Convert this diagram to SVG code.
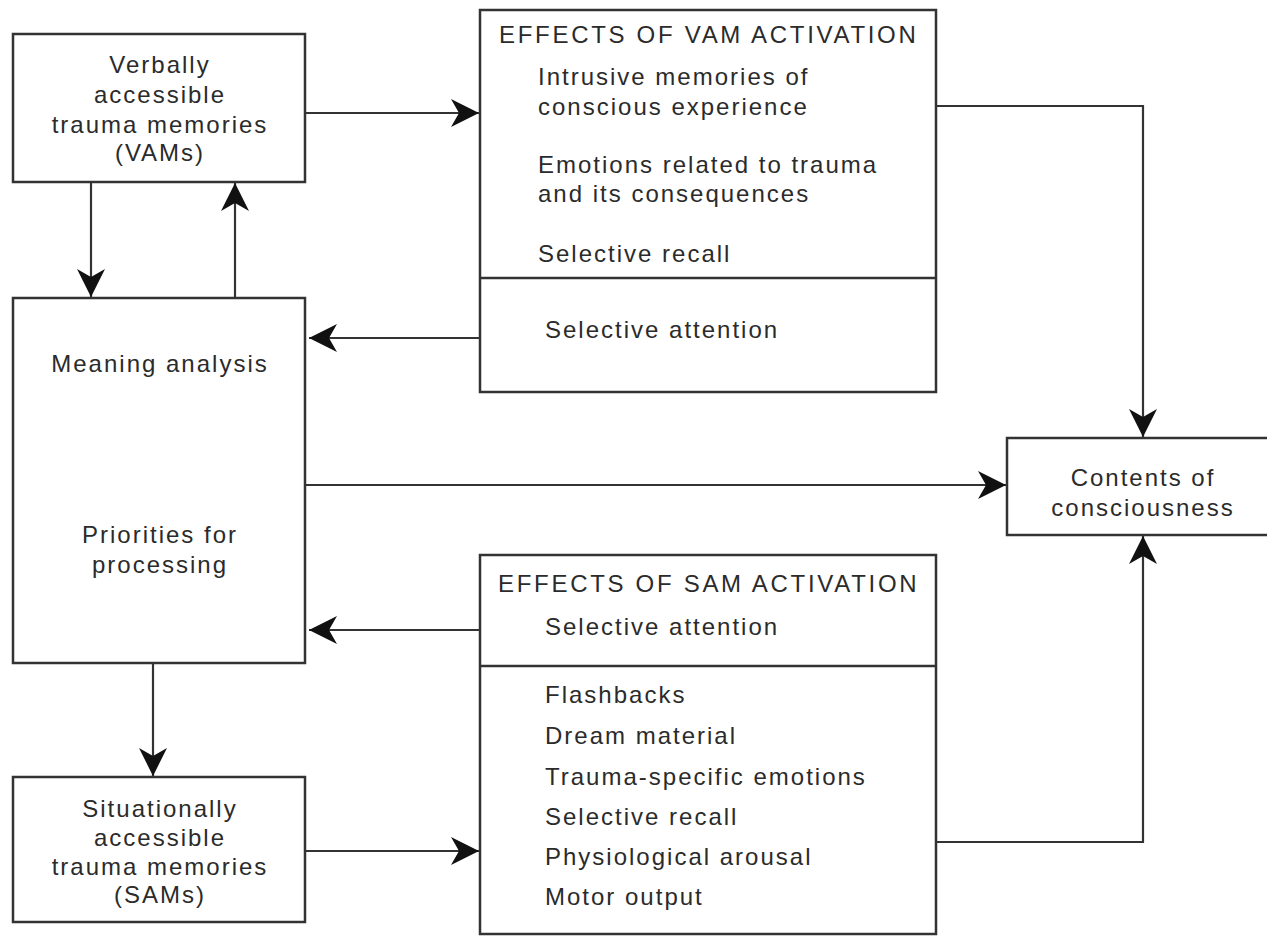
<svg xmlns="http://www.w3.org/2000/svg" width="1267" height="937" viewBox="0 0 1267 937">
  <style>
    .box { fill: #fff; stroke: #333; stroke-width: 2.5; }
    .rule { stroke: #333; stroke-width: 2.5; }
    .link { fill: none; stroke: #333; stroke-width: 2.2; marker-end: url(#arrow); }
    text { font-family: "Liberation Sans", Arial, Helvetica, sans-serif; font-size: 24px; fill: #2b2b2b; letter-spacing: 2px; }
    .mid { text-anchor: middle; }
    .title { letter-spacing: 2.7px; }
  </style>
  <defs>
    <marker id="arrow" markerUnits="userSpaceOnUse" markerWidth="32" markerHeight="32" viewBox="-30 -16 32 32" refX="0" refY="0" orient="auto">
      <path d="M0,0 L-28,-14 L-20,0 L-28,14 Z" fill="#111"/>
    </marker>
  </defs>

  <rect width="1267" height="937" fill="#fff"/>

  <!-- connectors -->
  <g id="connectors">
    <path class="link" d="M305,113 H479"/>
    <path class="link" d="M936,106 H1143 V437"/>
    <path class="link" d="M91,182 V297"/>
    <path class="link" d="M235,298 V183"/>
    <path class="link" d="M480,338 H309"/>
    <path class="link" d="M305,485 H1006"/>
    <path class="link" d="M480,630 H309"/>
    <path class="link" d="M153,663 V776"/>
    <path class="link" d="M305,851 H479"/>
    <path class="link" d="M936,842 H1143 V536"/>
  </g>

  <!-- verbally accessible memories -->
  <g id="vams">
    <rect class="box" x="13" y="34" width="292" height="148"/>
    <text class="mid" x="160" y="73">Verbally</text>
    <text class="mid" x="160" y="103">accessible</text>
    <text class="mid" x="160" y="133">trauma memories</text>
    <text class="mid" x="160" y="161">(VAMs)</text>
  </g>

  <!-- central processing -->
  <g id="meaning">
    <rect class="box" x="13" y="298" width="292" height="365"/>
    <text class="mid" x="160" y="372">Meaning analysis</text>
    <text class="mid" x="160" y="543">Priorities for</text>
    <text class="mid" x="160" y="573">processing</text>
  </g>

  <!-- situationally accessible memories -->
  <g id="sams">
    <rect class="box" x="13" y="777" width="292" height="145"/>
    <text class="mid" x="160" y="817">Situationally</text>
    <text class="mid" x="160" y="846">accessible</text>
    <text class="mid" x="160" y="875">trauma memories</text>
    <text class="mid" x="160" y="903">(SAMs)</text>
  </g>

  <!-- effects of VAM activation -->
  <g id="vam-effects">
    <rect class="box" x="480" y="10" width="456" height="382"/>
    <line class="rule" x1="480" y1="278" x2="936" y2="278"/>
    <text class="title" x="499" y="43">EFFECTS OF VAM ACTIVATION</text>
    <text x="538" y="85">Intrusive memories of</text>
    <text x="538" y="115">conscious experience</text>
    <text x="538" y="173">Emotions related to trauma</text>
    <text x="538" y="202">and its consequences</text>
    <text x="538" y="262">Selective recall</text>
    <text x="545" y="338">Selective attention</text>
  </g>

  <!-- effects of SAM activation -->
  <g id="sam-effects">
    <rect class="box" x="480" y="555" width="456" height="379"/>
    <line class="rule" x1="480" y1="666" x2="936" y2="666"/>
    <text class="title" x="498" y="592">EFFECTS OF SAM ACTIVATION</text>
    <text x="545" y="635">Selective attention</text>
    <text x="545" y="703">Flashbacks</text>
    <text x="545" y="744">Dream material</text>
    <text x="545" y="785">Trauma-specific emotions</text>
    <text x="545" y="825">Selective recall</text>
    <text x="545" y="865">Physiological arousal</text>
    <text x="545" y="905">Motor output</text>
  </g>

  <!-- contents of consciousness -->
  <g id="contents">
    <rect class="box" x="1007" y="438" width="280" height="97"/>
    <text class="mid" x="1143" y="486">Contents of</text>
    <text class="mid" x="1143" y="516">consciousness</text>
  </g>
</svg>
